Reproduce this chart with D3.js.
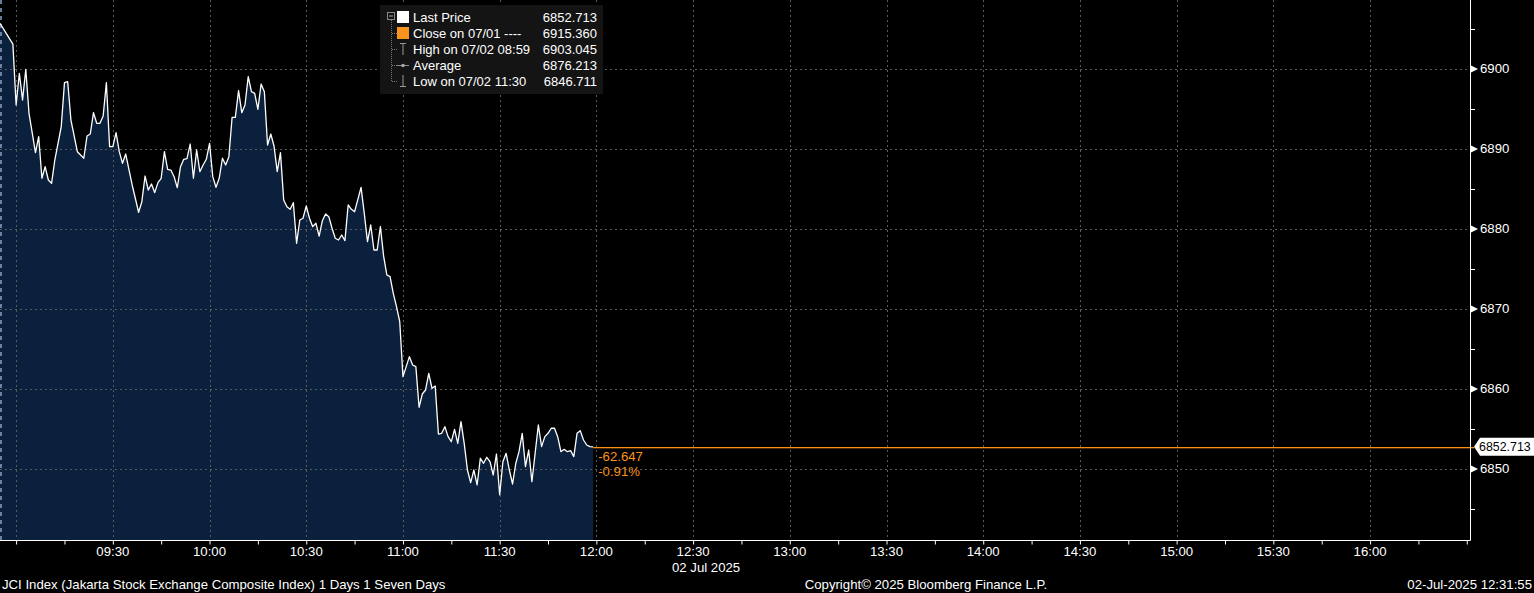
<!DOCTYPE html>
<html>
<head>
<meta charset="utf-8">
<script src="https://cdn.jsdelivr.net/npm/d3@7"></script>
<style>
html,body{margin:0;padding:0;background:#000;}
svg{display:block;}
text{font-family:"Liberation Sans",Arial,sans-serif;}
</style>
</head>
<body>
<svg id="chart" width="1534" height="593"></svg>
<script>
// ---- data ----
const times = ["08:55","08:59","09:00","09:01","09:02","09:03","09:04","09:06","09:07","09:08","09:09","09:10","09:11","09:12","09:14","09:15","09:16","09:17","09:19","09:20","09:21","09:22","09:23","09:24","09:25","09:26","09:27","09:28","09:29","09:30","09:31","09:32","09:33","09:34","09:36","09:38","09:39","09:40","09:41","09:42","09:43","09:44","09:45","09:46","09:47","09:48","09:49","09:50","09:51","09:52","09:53","09:54","09:55","09:56","09:57","09:58","09:59","10:00","10:01","10:02","10:03","10:04","10:05","10:06","10:07","10:08","10:09","10:10","10:11","10:12","10:13","10:14","10:15","10:16","10:17","10:18","10:19","10:20","10:21","10:22","10:23","10:24","10:25","10:26","10:27","10:28","10:29","10:30","10:31","10:32","10:33","10:34","10:35","10:36","10:37","10:38","10:39","10:40","10:41","10:42","10:43","10:44","10:45","10:47","10:48","10:49","10:50","10:51","10:52","10:53","10:54","10:55","10:56","10:57","10:58","10:59","11:00","11:01","11:02","11:03","11:04","11:05","11:06","11:07","11:08","11:09","11:10","11:11","11:12","11:13","11:14","11:15","11:16","11:17","11:18","11:19","11:20","11:21","11:22","11:23","11:24","11:25","11:26","11:27","11:28","11:29","11:30","11:31","11:32","11:33","11:34","11:35","11:36","11:37","11:38","11:39","11:40","11:41","11:42","11:43","11:44","11:45","11:46","11:47","11:48","11:49","11:50","11:51","11:52","11:53","11:54","11:55","11:56","11:57","11:58","11:59"];
const values = [6905.65,6903.05,6895.44,6899.40,6896.06,6899.90,6894.40,6889.48,6891.48,6886.28,6887.73,6886.06,6885.65,6888.56,6892.73,6898.23,6898.35,6893.56,6889.60,6889.19,6888.78,6891.56,6891.81,6894.48,6893.15,6893.15,6894.06,6898.23,6890.23,6890.23,6891.98,6889.60,6888.15,6889.31,6885.44,6882.03,6883.35,6886.56,6884.81,6885.56,6884.48,6885.73,6886.28,6889.60,6887.40,6887.31,6886.48,6885.10,6887.73,6888.65,6888.73,6890.56,6886.28,6889.81,6887.10,6887.94,6888.65,6890.65,6886.48,6885.15,6886.28,6888.78,6887.94,6888.98,6893.90,6893.90,6897.23,6894.48,6895.44,6898.98,6897.10,6896.90,6894.90,6898.06,6897.10,6890.44,6891.81,6890.31,6887.10,6889.48,6883.56,6882.73,6882.40,6883.23,6878.15,6881.06,6881.28,6882.81,6881.28,6880.23,6880.65,6879.06,6880.98,6881.81,6881.48,6880.03,6878.78,6878.56,6879.19,6878.48,6882.94,6882.40,6882.10,6885.15,6881.90,6878.35,6880.44,6877.31,6877.31,6880.23,6876.56,6874.19,6873.98,6871.90,6870.23,6868.35,6861.48,6862.73,6863.98,6862.94,6862.73,6857.65,6859.31,6859.81,6861.90,6860.03,6860.31,6854.31,6854.40,6855.23,6853.98,6853.35,6854.90,6853.15,6855.85,6853.15,6849.81,6848.23,6849.81,6847.94,6851.28,6850.65,6851.40,6850.85,6849.19,6851.81,6846.71,6850.85,6851.90,6849.81,6848.06,6850.65,6852.10,6854.40,6850.23,6852.31,6848.35,6851.90,6855.44,6852.73,6853.98,6854.40,6855.03,6855.03,6853.98,6852.10,6852.40,6852.10,6852.23,6851.48,6854.40,6854.73,6853.56,6852.94,6852.73,6852.713];
const yTicks = [6850,6860,6870,6880,6890,6900];
const yMinorTicks = [6845,6855,6865,6875,6885,6895,6905];
const xTickLabels = ["09:30","10:00","10:30","11:00","11:30","12:00","12:30","13:00","13:30","14:00","14:30","15:00","15:30","16:00"];
const xGridTimes = ["09:00","09:30","10:00","10:30","11:00","11:30","12:00","12:30","13:00","13:30","14:00","14:30","15:00","15:30","16:00"];
const domainTimes = ["08:55","16:31"];
const yDomain = [6841.0625, 6908.5625];
const lastPrice = 6852.713;
const netChange = "-62.647";
const pctChange = "-0.91%";
const legendLabels = ["Last Price","Close on 07/01 ----","High on 07/02 08:59","Average","Low on 07/02 11:30"];
const legendValues = ["6852.713","6915.360","6903.045","6876.213","6846.711"];
const dateLabel = "02 Jul 2025";
const footerLeft = "JCI Index (Jakarta Stock Exchange Composite Index) 1 Days 1 Seven Days";
const footerMid = "Copyright\u00A9 2025 Bloomberg Finance L.P.";
const footerRight = "02-Jul-2025 12:31:55";

// ---- layout ----
const W = 1534, H = 593;
const plotL = 0, plotR = 1470, plotT = 0, plotB = 540;
const parse = d3.timeParse("%H:%M");
const data = times.map((t,i)=>({t:parse(t), v:values[i]}));

const svg = d3.select("#chart");
svg.append("rect").attr("width",W).attr("height",H).attr("fill","#000");

const x = d3.scaleTime().domain(domainTimes.map(parse)).range([plotL, plotR]);
const y = d3.scaleLinear().domain(yDomain).range([plotB, plotT]);

const ORANGE = "#f7931e";
const GRID = "#5a5a5a";
const FS = 13.2;

// area
const area = d3.area().x(d=>x(d.t)).y0(plotB).y1(d=>y(d.v));
const line = d3.line().x(d=>x(d.t)).y(d=>y(d.v));
svg.append("path").datum(data).attr("d",area).attr("fill","#0b203d");

// gridlines
svg.append("g").selectAll("line").data(yTicks).join("line")
  .attr("x1",plotL).attr("x2",plotR)
  .attr("y1",d=>Math.round(y(d))+0.5).attr("y2",d=>Math.round(y(d))+0.5)
  .attr("stroke",GRID).attr("stroke-dasharray","2,3").attr("stroke-width",1);
svg.append("g").selectAll("line").data(xGridTimes).join("line")
  .attr("x1",d=>Math.round(x(parse(d)))+0.5).attr("x2",d=>Math.round(x(parse(d)))+0.5)
  .attr("y1",plotT).attr("y2",plotB)
  .attr("stroke",GRID).attr("stroke-dasharray","2,3").attr("stroke-width",1);

// left edge dashed separator
svg.append("line").attr("x1",1).attr("x2",1).attr("y1",0).attr("y2",plotB)
  .attr("stroke","#8da2c0").attr("stroke-width",1.5).attr("stroke-dasharray","4,4");

svg.append("path").datum(data).attr("d",line).attr("fill","none")
  .attr("stroke","#ffffff").attr("stroke-width",1.3).attr("stroke-linejoin","round");

// last price line (orange)
const lastX = x(data[data.length-1].t);
const lyR = Math.round(y(lastPrice));
svg.append("rect").attr("x",lastX).attr("y",lyR).attr("width",plotR+4-lastX).attr("height",1.3)
  .attr("fill","#ff9010");
svg.append("text").attr("x",lastX+5).attr("y",y(lastPrice)+14).attr("fill",ORANGE)
  .attr("font-size",FS).text(netChange);
svg.append("text").attr("x",lastX+5).attr("y",y(lastPrice)+29).attr("fill",ORANGE)
  .attr("font-size",FS).text(pctChange);

// axes lines
svg.append("line").attr("x1",plotL).attr("x2",plotR+0.5).attr("y1",plotB+0.5).attr("y2",plotB+0.5)
  .attr("stroke","#fff").attr("stroke-width",1);
svg.append("line").attr("x1",plotR+0.5).attr("x2",plotR+0.5).attr("y1",0).attr("y2",plotB+0.5)
  .attr("stroke","#fff").attr("stroke-width",1);

// right axis
const yAxis = d3.axisRight(y).tickValues(yTicks).tickSize(0).tickPadding(10).tickFormat(d3.format("d"));
const ya = svg.append("g").attr("transform",`translate(${plotR},0)`).call(yAxis);
ya.select(".domain").remove();
ya.selectAll("text").attr("fill","#fff").attr("font-size",FS).attr("font-family","Liberation Sans, Arial, sans-serif");
ya.selectAll(".tick").append("path").attr("d","M1,-3.5 L8,0 L1,3.5 Z").attr("fill","#fff");
svg.append("g").selectAll("line").data(yMinorTicks).join("line")
  .attr("x1",plotR).attr("x2",plotR+5)
  .attr("y1",d=>Math.round(y(d))+0.5).attr("y2",d=>Math.round(y(d))+0.5)
  .attr("stroke","#fff");

// bottom axis
const xAxis = d3.axisBottom(x).ticks(d3.timeMinute.every(15)).tickSize(4).tickFormat("");
const xa = svg.append("g").attr("transform",`translate(0,${plotB+0.5})`).call(xAxis);
xa.select(".domain").remove();
xa.selectAll("line").attr("stroke","#fff");
svg.append("g").selectAll("text").data(xTickLabels).join("text")
  .attr("x",d=>x(parse(d))).attr("y",556).attr("text-anchor","middle")
  .attr("fill","#fff").attr("font-size",FS).text(d=>d);
svg.append("text").attr("x",672).attr("y",572).attr("fill","#fff").attr("font-size",FS).text(dateLabel);

// footer
svg.append("text").attr("x",2).attr("y",589).attr("fill","#fff").attr("font-size",FS).text(footerLeft);
svg.append("text").attr("x",926).attr("y",589).attr("text-anchor","middle").attr("fill","#fff").attr("font-size",FS).text(footerMid);
svg.append("text").attr("x",1532).attr("y",589).attr("text-anchor","end").attr("fill","#fff").attr("font-size",FS).text(footerRight);

// last price tag
const ly = y(lastPrice);
svg.append("path").attr("d",`M${plotR+4},${ly} L${plotR+10},${ly-9} L${W},${ly-9} L${W},${ly+9} L${plotR+10},${ly+9} Z`)
  .attr("fill","#fff");
svg.append("text").attr("x",plotR+9).attr("y",ly+4.5).attr("fill","#000").attr("font-size",12.4).text(lastPrice.toFixed(3));

// legend
const lg = svg.append("g");
lg.append("rect").attr("x",380).attr("y",5).attr("width",223).attr("height",89).attr("fill","#141414");
const rowY = i => 17 + i*16;
lg.append("rect").attr("x",387.5).attr("y",12.5).attr("width",7).attr("height",7).attr("fill","none").attr("stroke","#888");
lg.append("line").attr("x1",389).attr("x2",393).attr("y1",16).attr("y2",16).attr("stroke","#aaa");
lg.append("line").attr("x1",391.5).attr("x2",391.5).attr("y1",20).attr("y2",rowY(4)+0.5).attr("stroke","#777").attr("stroke-dasharray","1,1");
[1,2,3,4].forEach(i=>{
  lg.append("line").attr("x1",392).attr("x2",397).attr("y1",rowY(i)+0.5).attr("y2",rowY(i)+0.5).attr("stroke","#777").attr("stroke-dasharray","1,1");
});
lg.append("rect").attr("x",397).attr("y",rowY(0)-6).attr("width",12).attr("height",12).attr("fill","#fff");
lg.append("rect").attr("x",397).attr("y",rowY(1)-6).attr("width",12).attr("height",12).attr("fill",ORANGE);
lg.append("path").attr("d",`M400,${rowY(2)-5.5} H406 M403,${rowY(2)-5.5} V${rowY(2)+6}`).attr("stroke","#999").attr("fill","none");
lg.append("path").attr("d",`M397,${rowY(3)+0.5} H409`).attr("stroke","#888").attr("fill","none");
lg.append("circle").attr("cx",403).attr("cy",rowY(3)+0.5).attr("r",1.8).attr("fill","#aaa");
lg.append("path").attr("d",`M403,${rowY(4)-6} V${rowY(4)+5.5} M400,${rowY(4)+5.5} H406`).attr("stroke","#999").attr("fill","none");
lg.selectAll("text.lbl").data(legendLabels).join("text")
  .attr("x",413).attr("y",(d,i)=>rowY(i)+4.5).attr("fill","#fff").attr("font-size",13).text(d=>d);
lg.selectAll("text.val").data(legendValues).join("text")
  .attr("x",597).attr("y",(d,i)=>rowY(i)+4.5).attr("text-anchor","end").attr("fill","#fff").attr("font-size",13).text(d=>d);
</script>
</body>
</html>
